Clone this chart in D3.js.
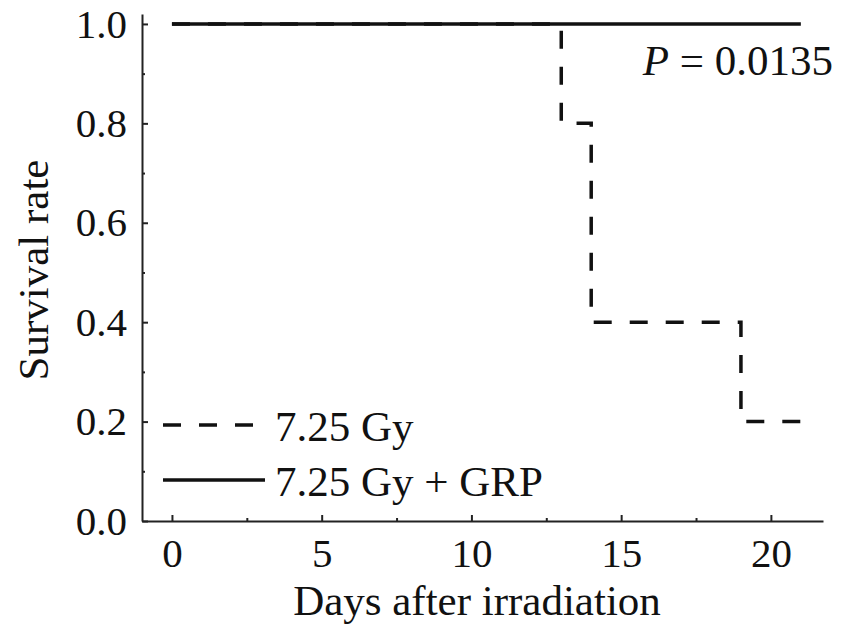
<!DOCTYPE html>
<html lang='en'>
  <head>
    <style type='text/css'>
      body {margin: 0; background-color: #fff;}
      svg {display: block;}
      text {font-family: "Liberation Serif", "Times New Roman", serif; fill: #111;}
    </style>
  </head>
  <body>
    <svg id='chart' width='854' height='628'></svg>

    <script src='https://d3js.org/d3.v7.min.js'></script>
    <script type='text/javascript'>
        // data
        var days     = [0, 13, 14, 19, 21];
        var gyOnly   = [1.0, 0.8, 0.4, 0.2, 0.2];
        var grpDays  = [0, 21];
        var gyGrp    = [1.0, 1.0];
        var xTicks   = [0, 5, 10, 15, 20];
        var xMinor   = [2.5, 7.5, 12.5, 17.5];
        var yTicks   = [0, 0.2, 0.4, 0.6, 0.8, 1.0];
        var yMinor   = [0.1, 0.3, 0.5, 0.7, 0.9];
        var labels   = ["7.25 Gy", "7.25 Gy + GRP"];

        var svg = d3.select("#chart");

        var x = d3.scaleLinear().domain([-1, 21.74]).range([142, 823]);
        var y = d3.scaleLinear().domain([0, 1.02]).range([521, 14]);

        // x axis, ticks point inward
        svg.append("g")
            .attr("transform", "translate(0," + y(0) + ")")
            .call(d3.axisBottom(x).tickValues(xTicks).tickFormat(d3.format("d"))
              .tickSizeInner(-6).tickSizeOuter(0).tickPadding(17));
        svg.append("g")
            .attr("transform", "translate(0," + y(0) + ")")
            .call(d3.axisBottom(x).tickValues(xMinor).tickFormat("")
              .tickSizeInner(-3).tickSizeOuter(0))
            .select(".domain").remove();

        // y axis
        svg.append("g")
            .attr("transform", "translate(" + x(-1) + ",0)")
            .call(d3.axisLeft(y).tickValues(yTicks).tickFormat(d3.format(".1f"))
              .tickSizeInner(-6).tickSizeOuter(0).tickPadding(15));
        svg.append("g")
            .attr("transform", "translate(" + x(-1) + ",0)")
            .call(d3.axisLeft(y).tickValues(yMinor).tickFormat("")
              .tickSizeInner(-3).tickSizeOuter(0))
            .select(".domain").remove();

        svg.selectAll(".tick line, .domain")
            .attr("stroke", "#222")
            .attr("stroke-width", 2);
        svg.selectAll(".tick text")
            .attr("font-family", "Liberation Serif")
            .attr("font-size", 41)
            .attr("fill", "#111");

        // axis titles
        svg.append("text")
            .attr("x", 477).attr("y", 615)
            .attr("text-anchor", "middle")
            .attr("font-size", 43)
            .text("Days after irradiation");
        svg.append("text")
            .attr("transform", "translate(48,270) rotate(-90)")
            .attr("text-anchor", "middle")
            .attr("font-size", 43)
            .text("Survival rate");

        // survival curves
        var line = d3.line()
            .x(function(d) { return x(d[0]); })
            .y(function(d) { return y(d[1]); })
            .curve(d3.curveStepAfter);

        svg.append("path")
            .datum(d3.zip(days, gyOnly))
            .attr("d", line)
            .attr("fill", "none")
            .attr("stroke", "#111")
            .attr("stroke-width", 3.5)
            .attr("stroke-dasharray", "18,18");

        svg.append("path")
            .datum(d3.zip(grpDays, gyGrp))
            .attr("d", line)
            .attr("fill", "none")
            .attr("stroke", "#111")
            .attr("stroke-width", 3.5);

        // P value
        var p = svg.append("text")
            .attr("x", 833).attr("y", 75)
            .attr("text-anchor", "end")
            .attr("font-size", 43);
        p.append("tspan").attr("font-style", "italic").text("P");
        p.append("tspan").text(" = 0.0135");

        // legend
        var rows = svg.append("g").selectAll("g").data(labels).enter().append("g")
            .attr("transform", function(d, i) { return "translate(0," + (425 + i * 55) + ")"; });
        rows.append("line")
            .attr("x1", 163)
            .attr("x2", function(d, i) { return i === 0 ? 253 : 265; })
            .attr("stroke", "#111")
            .attr("stroke-width", 3.5)
            .attr("stroke-dasharray", function(d, i) { return i === 0 ? "18,18" : null; });
        rows.append("text")
            .attr("x", 275)
            .attr("y", 16)
            .attr("font-size", 43)
            .text(function(d) { return d; });
    </script>
  </body>
</html>
